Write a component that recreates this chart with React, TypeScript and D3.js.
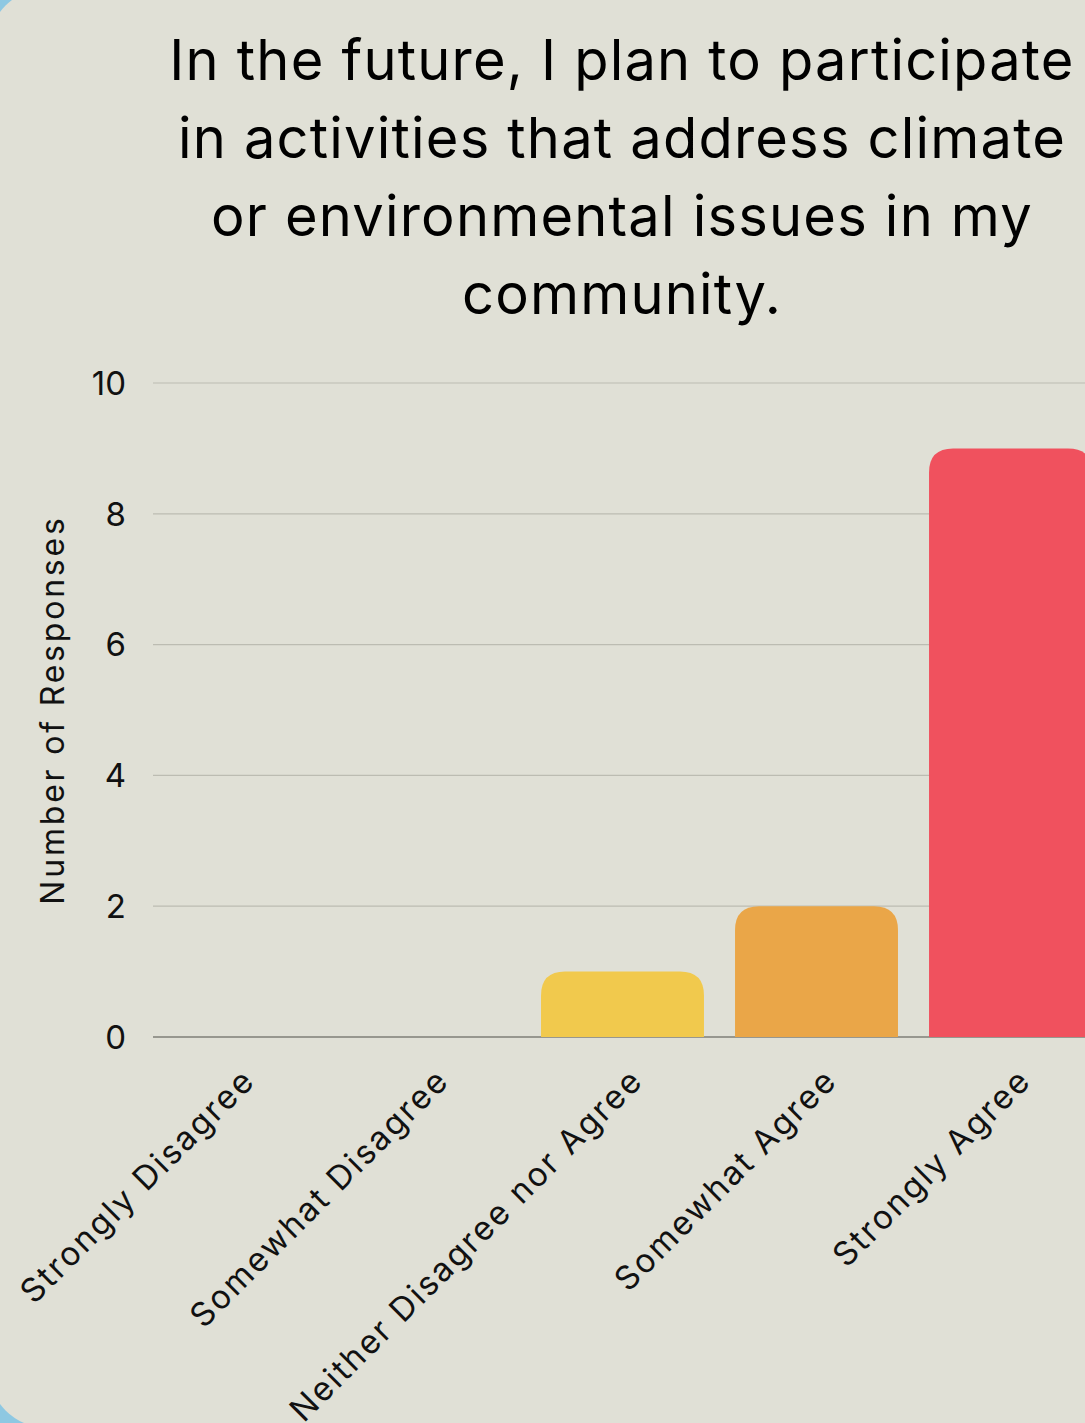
import React, { useEffect, useRef } from 'react';
import * as d3 from 'd3';

const categories = [
  'Strongly Disagree',
  'Somewhat Disagree',
  'Neither Disagree nor Agree',
  'Somewhat Agree',
  'Strongly Agree',
];
const responses = [0, 0, 1, 2, 9];
const barColors = ['#f1c94d', '#f1c94d', '#f1c94d', '#eaa648', '#f0515e'];
const yTicks = [0, 2, 4, 6, 8, 10];
const titleLines = [
  'In the future, I plan to participate',
  'in activities that address climate',
  'or environmental issues in my',
  'community.',
];

const W = 1085;
const H = 1423;
const FONT = "Inter, 'Noto Sans', sans-serif";

const App: React.FC = () => {
  const svgRef = useRef<SVGSVGElement>(null);

  useEffect(() => {
    document.body.style.margin = '0';
    if (!svgRef.current) return;
    const root = d3.select(svgRef.current);
    root.selectAll('*').remove();

    // blue page behind the card
    root.append('rect').attr('width', W).attr('height', H).attr('fill', '#8ec8e2');
    root
      .append('rect')
      .attr('x', -12)
      .attr('y', -12)
      .attr('width', W + 80)
      .attr('height', 1440)
      .attr('rx', 60)
      .attr('fill', '#e0e0d6');

    const x = d3
      .scaleBand<string>()
      .domain(categories)
      .range([153, 1092])
      .paddingInner(0.16)
      .paddingOuter(0);

    const y = d3.scaleLinear().domain([0, 10]).range([1037, 383]);

    // title
    root
      .append('text')
      .attr('text-anchor', 'middle')
      .attr('font-family', FONT)
      .attr('font-size', 56)
      .attr('letter-spacing', 1.2)
      .attr('fill', '#000')
      .selectAll('tspan')
      .data(titleLines)
      .join('tspan')
      .attr('x', 622)
      .attr('y', (_, i) => 80 + i * 78)
      .text((d) => d);

    // grid
    root
      .append('g')
      .selectAll('line')
      .data(yTicks)
      .join('line')
      .attr('x1', 153)
      .attr('x2', W)
      .attr('y1', (d) => y(d))
      .attr('y2', (d) => y(d))
      .attr('stroke', (d) => (d === 0 ? '#97978f' : '#bcbcb2'))
      .attr('stroke-width', (d) => (d === 0 ? 2 : 1.2));

    // y axis labels
    root
      .append('g')
      .selectAll('text')
      .data(yTicks)
      .join('text')
      .attr('x', 126)
      .attr('y', (d) => y(d))
      .attr('dy', '0.36em')
      .attr('text-anchor', 'end')
      .attr('font-family', FONT)
      .attr('font-size', 33)
      .attr('fill', '#111')
      .text((d) => d);

    root
      .append('text')
      .attr('transform', `translate(64, ${(383 + 1037) / 2}) rotate(-90)`)
      .attr('text-anchor', 'middle')
      .attr('font-family', FONT)
      .attr('font-size', 32)
      .attr('letter-spacing', 2.8)
      .attr('fill', '#111')
      .text('Number of Responses');

    // bars with rounded tops
    const bw = x.bandwidth();
    const r = 24;
    root
      .append('g')
      .selectAll('path')
      .data(categories.map((c, i) => ({ c, v: responses[i], color: barColors[i] })))
      .join('path')
      .filter((d) => d.v > 0)
      .attr('d', (d) => {
        const x0 = x(d.c)!;
        const y0 = y(d.v);
        const y1 = y(0);
        const rr = Math.min(r, y1 - y0, bw / 2);
        return `M${x0},${y1}V${y0 + rr}Q${x0},${y0} ${x0 + rr},${y0}H${x0 + bw - rr}Q${x0 + bw},${y0} ${x0 + bw},${y0 + rr}V${y1}Z`;
      })
      .attr('fill', (d) => d.color);

    // x labels
    root
      .append('g')
      .selectAll('text')
      .data(categories)
      .join('text')
      .attr('transform', (d) => `translate(${x(d)! + bw / 2 + 6}, 1066) rotate(-45)`)
      .attr('text-anchor', 'end')
      .attr('dy', '0.7em')
      .attr('font-family', FONT)
      .attr('font-size', 33)
      .attr('letter-spacing', 2.2)
      .attr('fill', '#111')
      .text((d) => d);
  }, []);

  return <svg ref={svgRef} width={W} height={H} style={{ display: 'block' }} />;
};

export default App;
